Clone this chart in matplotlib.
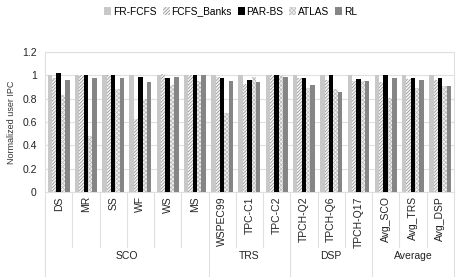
import matplotlib
matplotlib.use('Agg')
import matplotlib.pyplot as plt
import matplotlib.transforms as mtransforms
import numpy as np

plt.rcParams['font.family'] = ['Liberation Sans', 'DejaVu Sans']
plt.rcParams['hatch.linewidth'] = 0.5

categories = ['DS', 'MR', 'SS', 'WF', 'WS', 'MS', 'WSPEC99', 'TPC-C1', 'TPC-C2',
              'TPCH-Q2', 'TPCH-Q6', 'TPCH-Q17', 'Avg_SCO', 'Avg_TRS', 'Avg_DSP']
groups = ['SCO', 'TRS', 'DSP', 'Average']
group_sizes = [6, 3, 3, 3]
series = ['FR-FCFS', 'FCFS_Banks', 'PAR-BS', 'ATLAS', 'RL']

fr_fcfs = [1.0, 1.0, 1.0, 1.0, 1.0, 1.0, 1.0, 1.0, 1.0, 1.0, 1.0, 1.0, 1.0, 1.0, 1.0]
fcfs_banks = [0.98, 1.0, 1.0, 0.63, 1.01, 1.0, 0.99, 0.93, 1.0, 0.98, 0.96, 0.95, 0.94, 0.97, 0.96]
par_bs = [1.02, 1.0, 1.0, 0.99, 0.98, 1.0, 0.98, 0.96, 1.0, 0.98, 1.0, 0.97, 1.0, 0.98, 0.98]
atlas = [0.83, 0.48, 0.88, 0.80, 0.92, 0.95, 0.68, 0.99, 1.0, 0.89, 0.88, 0.95, 0.81, 0.89, 0.91]
rl = [0.96, 0.98, 0.98, 0.94, 0.99, 1.0, 0.95, 0.94, 0.99, 0.92, 0.86, 0.95, 0.98, 0.96, 0.91]

values = [fr_fcfs, fcfs_banks, par_bs, atlas, rl]
styles = [
    dict(color='#c8c8c8'),
    dict(facecolor='#f4f4f4', edgecolor='#8c8c8c', hatch='//////////', linewidth=0),
    dict(color='black'),
    dict(facecolor='#f0f0f0', edgecolor='#b8b8b8', hatch='xxxxxxxx', linewidth=0),
    dict(color='#858585'),
]

fig = plt.figure(figsize=(4.64, 2.77), dpi=100)
ax = fig.add_axes([0.097, 0.307, 0.881, 0.505])

x = np.arange(len(categories))
w = 0.16
for j, (name, vals) in enumerate(zip(series, values)):
    ax.bar(x + (j - 2) * w, vals, w, label=name, zorder=3, **styles[j])

ax.set_xlim(-0.5, len(categories) - 0.5)
ax.set_ylim(0, 1.2)
ax.set_yticks(np.arange(0, 1.21, 0.2))
ax.set_yticklabels(['0', '0.2', '0.4', '0.6', '0.8', '1', '1.2'])
ax.yaxis.grid(True, color='#e0e0e0', linewidth=0.8, zorder=0)
ax.set_axisbelow(True)
for s in ax.spines.values():
    s.set_color('#e0e0e0')
    s.set_linewidth(0.8)
ax.tick_params(axis='both', length=0, labelsize=7.5, colors='#222222')
ax.tick_params(axis='y', pad=6)
ax.set_xticks(x)
ax.set_xticklabels(categories, rotation=90, va='top')
ax.tick_params(axis='x', pad=3)
ax.set_ylabel('Normalized user IPC', fontsize=6.5, color='#333333', labelpad=4)

# multi-level category separators
trans = mtransforms.blended_transform_factory(ax.transData, ax.transAxes)
bounds = np.cumsum([0] + group_sizes) - 0.5
for b in np.arange(-0.5, len(categories), 1.0):
    ybot = -0.61 if b in bounds else -0.39
    ax.plot([b, b], [0, ybot], transform=trans, color='#e0e0e0',
            linewidth=0.8, clip_on=False)
for g, lo, hi in zip(groups, bounds[:-1], bounds[1:]):
    ax.text((lo + hi) / 2, -0.46, g, transform=trans, ha='center', va='center',
            fontsize=7.5, color='#222222')

ax.legend(loc='upper center', bbox_to_anchor=(0.497, 1.0), bbox_transform=fig.transFigure,
          ncol=5, frameon=False, fontsize=7.3, handlelength=0.7, handleheight=0.7,
          handletextpad=0.15, columnspacing=0.6, borderaxespad=0.25)

fig.savefig('out.png', dpi=100)
